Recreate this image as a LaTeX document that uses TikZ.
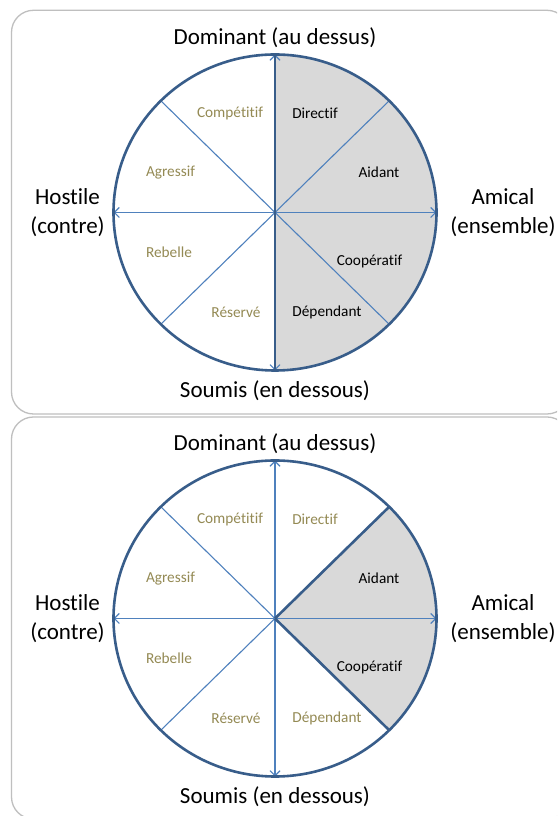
\documentclass[tikz,border=0pt]{standalone}
\usepackage{fontspec}
\setmainfont{Carlito}[Ligatures=NoCommon]
\usetikzlibrary{arrows.meta}
\definecolor{ringblue}{HTML}{385D8A}
\definecolor{lineblue}{HTML}{4F81BD}
\definecolor{sectorgray}{HTML}{D9D9D9}
\definecolor{olivetext}{HTML}{948A54}
\definecolor{panelgray}{HTML}{BFBFBF}
\begin{document}
\begin{tikzpicture}[x=1pt,y=1pt,
  panelbox/.style={draw=panelgray,line width=1.3pt,rounded corners=22pt},
  ring/.style={draw=ringblue,line width=2.6pt},
  spoke/.style={draw=lineblue,line width=1.1pt},
  axisline/.style={draw=lineblue,line width=1.1pt,{Straight Barb[length=5pt,width=10pt]}-{Straight Barb[length=5pt,width=10pt]}},
  boundary/.style={draw=ringblue,line width=2.6pt},
  biglbl/.style={font=\fontsize{23}{29}\selectfont,align=center,inner sep=0pt},
  lblon/.style={font=\fontsize{15.3}{18}\selectfont,text=black,inner sep=0pt},
  lbloff/.style={font=\fontsize{15.3}{18}\selectfont,text=olivetext,inner sep=0pt}
]
\clip (0,0) rectangle (557,816);
\fill[white] (0,0) rectangle (557,816);
% panels
\draw[panelbox] (11.5,402) rectangle (569,805.7);
\draw[panelbox] (11.5,-3) rectangle (569,399);

% ---------- top panel ----------
\begin{scope}[shift={(275,603.5)}]
  \coordinate (tc) at (0,0);
  \coordinate (tN) at (0,158);
  \coordinate (tS) at (0,-158);
  \coordinate (tE) at (161.5,0);
  \coordinate (tW) at (-161.5,0);
  \coordinate (tNE) at ({161.5*cos(45)},{158*sin(45)});
  \coordinate (tNW) at ({-161.5*cos(45)},{158*sin(45)});
  \coordinate (tSE) at ({161.5*cos(45)},{-158*sin(45)});
  \coordinate (tSW) at ({-161.5*cos(45)},{-158*sin(45)});
  \fill[sectorgray] (tN) arc[start angle=90,end angle=-90,x radius=161.5,y radius=158] -- cycle;
  \draw[spoke] (tNW) -- (tSE);
  \draw[spoke] (tSW) -- (tNE);
  \draw[axisline] (tW) -- (tE);
  \draw[axisline] (tS) -- (tN);
  \draw[boundary] (tS) -- (tN);
  \draw[ring] (tc) ellipse[x radius=161.5,y radius=158];
  \node[biglbl] (tdom) at (0,175) {Dominant (au dessus)};
  \node[biglbl] (tsou) at (0,-178) {Soumis (en dessous)};
  \node[biglbl] (thos) at (-207.5,-0.5) {Hostile\\(contre)};
  \node[biglbl] (tami) at (228,-0.5) {Amical\\(ensemble)};
  \node[lbloff] (tcomp) at (-45,99) {Compétitif};
  \node[lblon] (tdir) at (40,99) {Directif};
  \node[lbloff] (tagr) at (-104.5,40) {Agressif};
  \node[lblon] (taid) at (104,40) {Aidant};
  \node[lbloff] (treb) at (-106,-40) {Rebelle};
  \node[lblon] (tcoop) at (94.5,-49) {Coopératif};
  \node[lbloff] (tres) at (-39,-99.5) {Réservé};
  \node[lblon] (tdep) at (52,-99.5) {Dépendant};
\end{scope}

% ---------- bottom panel ----------
\begin{scope}[shift={(275,197.5)}]
  \coordinate (bc) at (0,0);
  \coordinate (bN) at (0,158);
  \coordinate (bS) at (0,-158);
  \coordinate (bE) at (161.5,0);
  \coordinate (bW) at (-161.5,0);
  \coordinate (bNE) at ({161.5*cos(45)},{158*sin(45)});
  \coordinate (bNW) at ({-161.5*cos(45)},{158*sin(45)});
  \coordinate (bSE) at ({161.5*cos(45)},{-158*sin(45)});
  \coordinate (bSW) at ({-161.5*cos(45)},{-158*sin(45)});
  \fill[sectorgray] (bc) -- (bNE) arc[start angle=45,end angle=-45,x radius=161.5,y radius=158] -- cycle;
  \draw[spoke] (bNW) -- (bSE);
  \draw[spoke] (bSW) -- (bNE);
  \draw[axisline] (bW) -- (bE);
  \draw[axisline] (bS) -- (bN);
  \draw[boundary] (bc) -- (bNE);
  \draw[boundary] (bc) -- (bSE);
  \draw[ring] (bc) ellipse[x radius=161.5,y radius=158];
  \node[biglbl] (bdom) at (0,175) {Dominant (au dessus)};
  \node[biglbl] (bsou) at (0,-178) {Soumis (en dessous)};
  \node[biglbl] (bhos) at (-207.5,-0.5) {Hostile\\(contre)};
  \node[biglbl] (bami) at (228,-0.5) {Amical\\(ensemble)};
  \node[lbloff] (bcomp) at (-45,99) {Compétitif};
  \node[lbloff] (bdir) at (40,99) {Directif};
  \node[lbloff] (bagr) at (-104.5,40) {Agressif};
  \node[lblon] (baid) at (104,40) {Aidant};
  \node[lbloff] (breb) at (-106,-40) {Rebelle};
  \node[lblon] (bcoop) at (94.5,-49) {Coopératif};
  \node[lbloff] (bres) at (-39,-99.5) {Réservé};
  \node[lbloff] (bdep) at (52,-99.5) {Dépendant};
\end{scope}
\end{tikzpicture}
\end{document}
